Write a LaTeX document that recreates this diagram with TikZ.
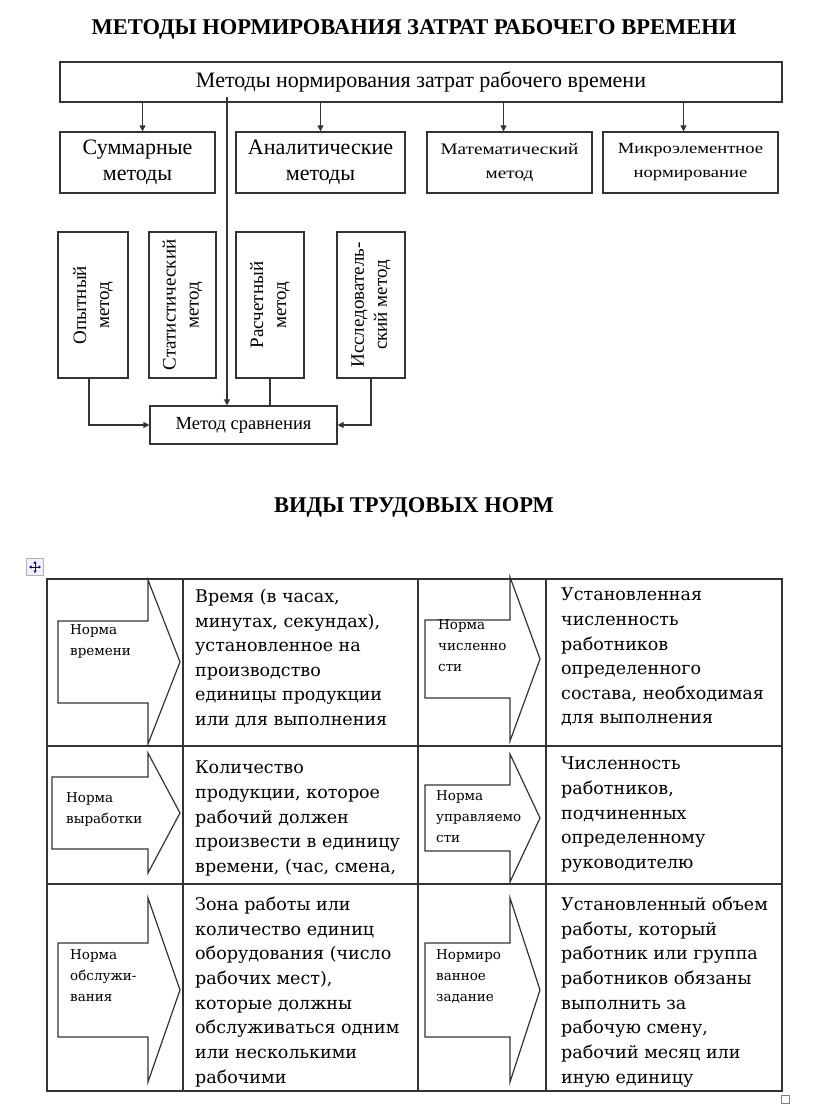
\documentclass[tikz,border=0pt]{standalone}
\usepackage{fontspec}
\setmainfont{Liberation Serif}
\newfontfamily\cellfont{DejaVu Serif}
\newfontfamily\wideserif[FakeStretch=1.2]{Liberation Serif}
\usetikzlibrary{arrows.meta}

% стрелка-указатель в ячейке таблицы: x0, основание, острие, середина, полуширина, полувысота
\newcommand\normarrow[6]{%
  \draw[cellarrow] (#1,#4-#5) -- (#2,#4-#5) -- (#2,#4-#6) -- (#3,#4)
    -- (#2,#4+#6) -- (#2,#4+#5) -- (#1,#4+#5) -- cycle;}

\begin{document}
\begin{tikzpicture}[x=1pt, y=-1pt,
    box/.style={draw=black!80, line width=1.2pt, align=center, inner sep=1pt},
    vbox/.style={box, minimum height=146pt},
    link/.style={draw=black!80, line width=1.2pt},
    arr/.style={link, -{Triangle[length=6pt,width=6pt]}},
    grid/.style={draw=black!80, line width=1.4pt},
    cellarrow/.style={draw=black!80, line width=1.2pt, line join=miter},
    headfont/.style={font=\bfseries\fontsize{22.5}{26}\selectfont},
    normtext/.style={anchor=north west, align=left, inner sep=0pt,
        font=\cellfont\fontsize{13.5}{21}\selectfont},
    desc/.style={anchor=north west, align=left, inner sep=0pt,
        font=\cellfont\fontsize{17.5}{24.6}\selectfont}]
\useasboundingbox (0,0) rectangle (816,1106);

% верхняя схема
\node[headfont] (title) at (414,29) {МЕТОДЫ НОРМИРОВАНИЯ ЗАТРАТ РАБОЧЕГО ВРЕМЕНИ};
\node[box, minimum width=722pt, minimum height=40pt,
    font=\fontsize{22}{24}\selectfont] (top) at (421,82)
    {Методы нормирования затрат рабочего времени};

\node[box, minimum width=155pt, minimum height=61pt,
    font=\fontsize{22}{26}\selectfont] (sum) at (137.5,162.5) {Суммарные\\методы};
\node[box, minimum width=169pt, minimum height=61pt,
    font=\fontsize{22}{26}\selectfont] (anal) at (320.5,162.5) {Аналитические\\методы};
\node[box, minimum width=165pt, minimum height=61pt,
    font=\wideserif\fontsize{16}{24}\selectfont] (math) at (509.5,162.5) {Математический\\метод};
\node[box, minimum width=175pt, minimum height=61pt,
    font=\wideserif\fontsize{15.5}{24}\selectfont] (micro) at (690.5,162.5) {Микроэлементное\\нормирование};

\foreach \n/\s in {sum/5,anal/0,math/-6,micro/-7}
    \draw[arr] ([xshift=\s pt]\n.north |- top.south) -- ([xshift=\s pt]\n.north);

\node[vbox, minimum width=70pt] (op) at (93,305) {};
\node[vbox, minimum width=67pt] (stat) at (182.5,305) {};
\node[vbox, minimum width=68pt] (calc) at (270,305) {};
\node[vbox, minimum width=68pt] (res) at (371,305) {};
\foreach \n/\t in {op/{Опытный\\метод}, stat/{Статистический\\метод},
    calc/{Расчетный\\метод}, res/{Исследователь-\\ский метод}}
    \node[rotate=90, align=center, font=\fontsize{19}{23}\selectfont] at (\n) {\t};

\node[box, minimum width=187pt, minimum height=38pt,
    font=\fontsize{18.5}{20}\selectfont] (cmp) at (243.5,425) {Метод сравнения};

\coordinate (trunk) at (227,97);
\draw[arr] (trunk) -- (trunk |- cmp.north);
\draw[arr] ([xshift=-4pt]op.south) |- (cmp.west);
\draw[arr] (res.south) |- (cmp.east);
\draw[link] (calc.south) -- (calc.south |- cmp.north);

% таблица видов норм
\node[headfont] (title2) at (414,507) {ВИДЫ ТРУДОВЫХ НОРМ};

\node[draw=black!30, fill=blue!6, minimum size=17pt, inner sep=0pt] (move) at (35,567) {};
\draw[blue!70!black, line width=0.8pt, {Triangle[length=2.5pt,width=3pt]}-{Triangle[length=2.5pt,width=3pt]}]
    ([yshift=-6pt]move.center) -- ([yshift=6pt]move.center);
\draw[blue!70!black, line width=0.8pt, {Triangle[length=2.5pt,width=3pt]}-{Triangle[length=2.5pt,width=3pt]}]
    ([xshift=-6pt]move.center) -- ([xshift=6pt]move.center);
\node[draw=black!50, line width=0.8pt, minimum size=8pt, inner sep=0pt] (resize) at (785,1099) {};

\draw[grid] (47,579) rectangle (782,1091);
\foreach \x in {183,418,546}
    \draw[grid] (\x,579) -- (\x,1091);
\foreach \y in {746,884}
    \draw[grid] (47,\y) -- (782,\y);

\normarrow{58}{148}{180}{662}{41}{82}
\normarrow{52}{148}{180}{813}{36}{60}
\normarrow{58}{148}{180}{990}{47}{92}
\normarrow{425}{510}{540}{659}{39}{82}
\normarrow{425}{510}{540}{818}{33}{64}
\normarrow{425}{510}{540}{990}{47}{92}

\node[normtext] (n1) at (70,624) {Норма\\времени};
\node[normtext] (n2) at (66,792) {Норма\\выработки};
\node[normtext] (n3) at (70,949) {Норма\\обслужи-\\вания};
\node[normtext] (n4) at (438,619) {Норма\\численно\\сти};
\node[normtext] (n5) at (436,790) {Норма\\управляемо\\сти};
\node[normtext] (n6) at (436,949) {Нормиро\\ванное\\задание};

\node[desc] (d1) at (195,589) {Время (в часах,\\минутах, секундах),\\установленное на\\производство\\единицы продукции\\или для выполнения};
\node[desc] (d2) at (195,761) {Количество\\продукции, которое\\рабочий должен\\произвести в единицу\\времени, (час, смена,};
\node[desc] (d3) at (195,897) {Зона работы или\\количество единиц\\оборудования (число\\рабочих мест),\\которые должны\\обслуживаться одним\\или несколькими\\рабочими};
\node[desc] (d4) at (561,588) {Установленная\\численность\\работников\\определенного\\состава, необходимая\\для выполнения};
\node[desc] (d5) at (561,757) {Численность\\работников,\\подчиненных\\определенному\\руководителю};
\node[desc] (d6) at (561,897) {Установленный объем\\работы, который\\работник или группа\\работников обязаны\\выполнить за\\рабочую смену,\\рабочий месяц или\\иную единицу};
\end{tikzpicture}
\end{document}
